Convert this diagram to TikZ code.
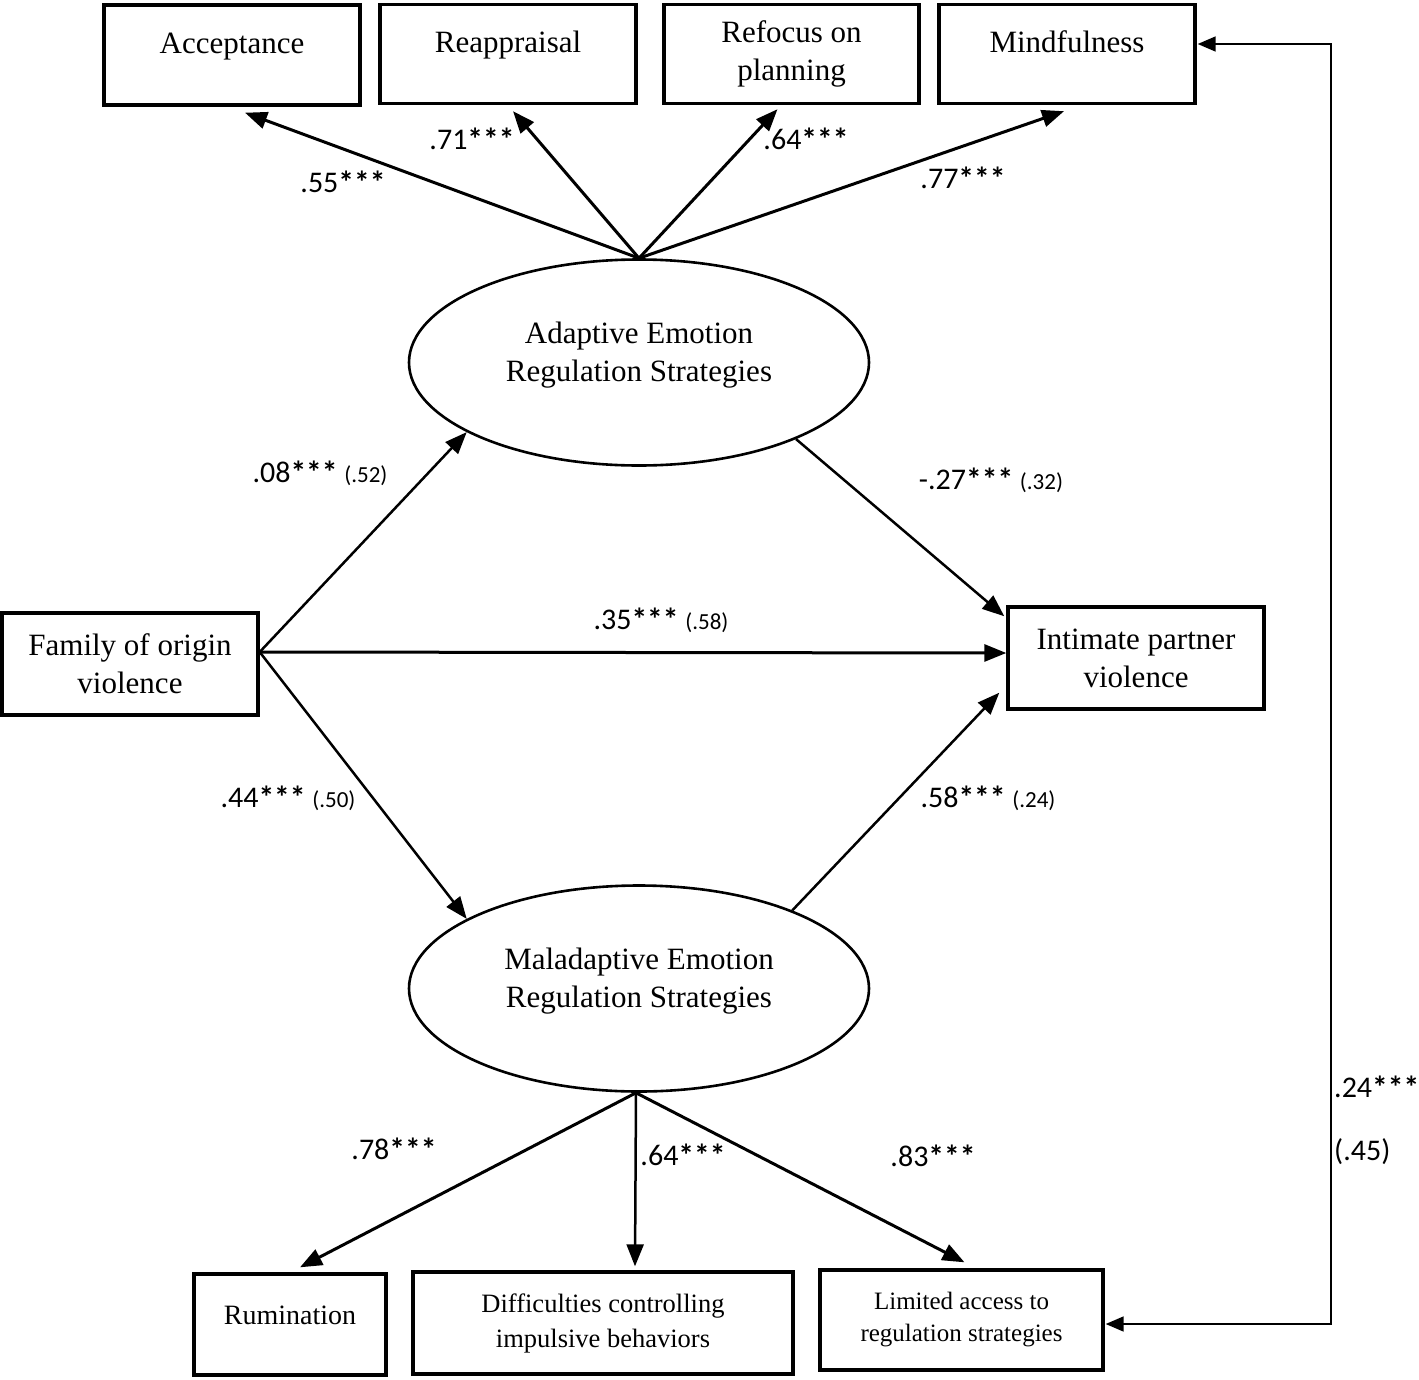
\documentclass[tikz,border=0pt]{standalone}
\usepackage{fontspec}
\setmainfont{Liberation Serif}
\newfontfamily\carl{Carlito}
\usetikzlibrary{arrows.meta,shapes.geometric}
\begin{document}
\begin{tikzpicture}[x=1pt,y=-1pt,
  box/.style={draw,line width=3.4pt,inner sep=0pt,align=center,font=\fontsize{31}{38}\selectfont},
  onel/.style={text height=22pt,text depth=26pt},
  ell/.style={draw,ellipse,line width=2.6pt,minimum width=460pt,minimum height=206pt,inner sep=0pt},
  etxt/.style={align=center,inner sep=0pt,font=\fontsize{31}{38}\selectfont},
  lbl/.style={inner sep=0pt,text height=19pt,text depth=0pt,font=\carl\fontsize{30}{36}\selectfont},
  arr/.style={line width=3pt,-{Triangle[length=22pt,width=17pt]}},
  arrt/.style={line width=2.5pt,-{Triangle[length=22pt,width=17pt]}},
  corr/.style={line width=1.7pt,{Triangle[length=18pt,width=15pt]}-{Triangle[length=18pt,width=15pt]}}
]
\newcommand{\pv}[1]{{\fontsize{23}{28}\selectfont #1}}
\newcommand{\stars}{\raisebox{-1pt}{\fontsize{31.5}{36}\selectfont\bfseries ***}}
\useasboundingbox (0,0) rectangle (1419,1379);

% top indicator boxes
\node[box,onel,minimum width=256pt,minimum height=100pt] (acc) at (232,55) {Acceptance};
\node[box,onel,minimum width=256pt,minimum height=99pt] (reap) at (508,54) {Reappraisal};
\node[box,minimum width=255pt,minimum height=99pt] (ref) at (791.5,54) {Refocus on\\planning};
\node[box,onel,minimum width=256pt,minimum height=99pt] (mind) at (1067,54) {Mindfulness};

% latent variables
\node[ell] (adap) at (639,362.5) {};
\node[etxt] (adaptxt) at (639,355) {Adaptive Emotion\\Regulation Strategies};
\node[ell] (mal) at (639,988.5) {};
\node[etxt] (maltxt) at (639,981) {Maladaptive Emotion\\Regulation Strategies};

% observed
\node[box,minimum width=256pt,minimum height=102pt] (fam) at (130,664) {Family of origin\\violence};
\node[box,minimum width=256pt,minimum height=102pt] (ipv) at (1136,658) {Intimate partner\\violence};

% bottom indicator boxes
\node[box,text height=20pt,text depth=21pt,minimum width=192pt,minimum height=101pt,font=\fontsize{28}{34}\selectfont] (rum) at (290,1324.5) {Rumination};
\node[box,minimum width=380pt,minimum height=102pt,font=\fontsize{26.5}{35}\selectfont] (diff) at (603,1323) {Difficulties controlling\\impulsive behaviors};
\node[box,minimum width=283pt,minimum height=100pt,font=\fontsize{25}{32}\selectfont] (lim) at (961.5,1320) {Limited access to\\regulation strategies};

% loadings adaptive
\draw[arr] (adap.north) -- ([shift={(13,6)}]acc.south);
\draw[arr] (adap.north) -- ([shift={(5,6)}]reap.south);
\draw[arr] (adap.north) -- ([shift={(-14,4)}]ref.south);
\draw[arr] (adap.north) -- ([shift={(-3,6)}]mind.south);

% structural paths
\draw[arrt] ([shift={(0,-12)}]fam.east) -- (adap.202);
\draw[arr] ([shift={(0,-12)}]fam.east) -- ([shift={(0,-5)}]ipv.west);
\draw[arrt] (adap.-26) -- ([shift={(-2,11)}]ipv.north west);
\draw[arrt] ([shift={(0,-12)}]fam.east) -- (mal.158);
\draw[arrt] (mal.27) -- ([shift={(-7,-18)}]ipv.south west);

% loadings maladaptive
\draw[arr] ([shift={(-3,0)}]mal.south) -- ([shift={(10,-5)}]rum.north);
\draw[arrt] ([shift={(-3,0)}]mal.south) -- ([shift={(32,-4)}]diff.north);
\draw[arr] ([shift={(-3,0)}]mal.south) -- ([shift={(3,-6)}]lim.north);

% correlation
\coordinate (mindE) at ([shift={(1,-10)}]mind.east);
\coordinate (limE) at ([shift={(1,4)}]lim.east);
\coordinate (cx) at (1331,0);
\draw[corr] (mindE) -- (mindE -| cx) -- (limE -| cx) -- (limE);

% labels
\node[lbl] (l55) at (343,183) {.55\stars};
\node[lbl] (l71) at (472,140) {.71\stars};
\node[lbl] (l64a) at (806,140) {.64\stars};
\node[lbl] (l77) at (963,179) {.77\stars};
\node[lbl] (l08) at (320,473) {.08\stars{} \pv{(.52)}};
\node[lbl] (l27) at (991,480) {-.27\stars{} \pv{(.32)}};
\node[lbl] (l35) at (661,620) {.35\stars{} \pv{(.58)}};
\node[lbl] (l44) at (288,798) {.44\stars{} \pv{(.50)}};
\node[lbl] (l58) at (988,798) {.58\stars{} \pv{(.24)}};
\node[lbl] (l78) at (394,1150) {.78\stars};
\node[lbl] (l64b) at (683,1156) {.64\stars};
\node[lbl] (l83) at (933,1157) {.83\stars};
\node[lbl,anchor=west] (l24) at (1334,1088) {.24\stars};
\node[lbl,anchor=west] (l45) at (1334,1151) {(.45)};
\end{tikzpicture}
\end{document}
